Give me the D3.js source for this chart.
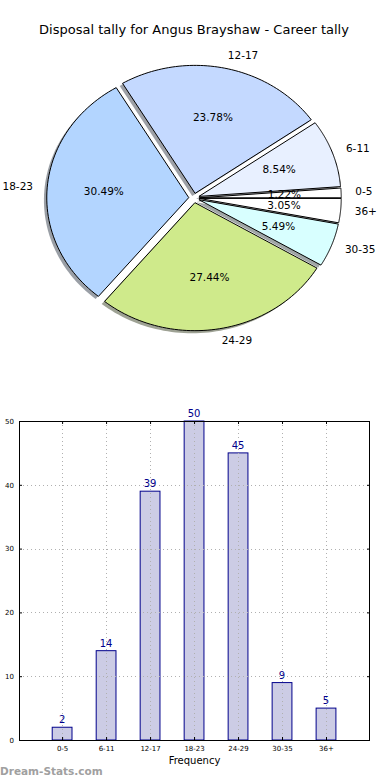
<!DOCTYPE html>
<html><head><meta charset="utf-8">
<script src="https://cdn.jsdelivr.net/npm/d3@7"></script>
<style>
html,body{margin:0;padding:0;background:#fff;}
svg{display:block;font-family:"DejaVu Sans",sans-serif;}
</style></head>
<body>
<svg id="chart" width="390" height="780"></svg>
<script>
const title = "Disposal tally for Angus Brayshaw - Career tally";
const categories = ["0-5","6-11","12-17","18-23","24-29","30-35","36+"];
const values = [2,14,39,50,45,9,5];
const sliceColors = ["#ffffff","#e8f0ff","#c4d9ff","#b3d5ff","#cfea8b","#d8ffff","#ffffff"];
const yTicks = [0,10,20,30,40,50];
const xLabel = "Frequency";
const watermark = "Dream-Stats.com";

const svg = d3.select("#chart");

svg.append("text").attr("x",194).attr("y",30).attr("text-anchor","middle")
  .attr("dominant-baseline","middle").attr("font-size",13).attr("fill","#000").text(title);

// ---- Pie (matplotlib style, counter-clockwise from 3 o'clock, elliptical) ----
const cx = 194, cy = 198, Rx = 142, Ry = 128, f = 0.037;
const total = d3.sum(values);
const angScale = d3.scaleLinear().domain([0,total]).range([0, 2*Math.PI]);
let acc = 0;
const slices = values.map((v,i)=>{ const a0 = angScale(acc); acc += v; const a1 = angScale(acc); return {i,v,a0,a1,mid:(a0+a1)/2}; });

function wedgePath(s, dx, dy){
  const ox = cx + dx + f*Rx*Math.cos(s.mid);
  const oy = cy + dy - f*Ry*Math.sin(s.mid);
  const n = 60;
  const pts = [[ox,oy]];
  for(let k=0;k<=n;k++){
    const a = s.a0 + (s.a1-s.a0)*k/n;
    pts.push([ox + Rx*Math.cos(a), oy - Ry*Math.sin(a)]);
  }
  return d3.line()(pts) + "Z";
}
const pieG = svg.append("g");
// shadows
pieG.selectAll("path.shadow").data(slices).join("path").attr("class","shadow")
  .attr("d", s=>wedgePath(s,-0.02*Rx,0.02*Ry))
  .attr("fill", (s)=>{const c=d3.rgb(sliceColors[s.i]); return d3.rgb(c.r*0.3,c.g*0.3,c.b*0.3);})
  .attr("fill-opacity",0.5).attr("stroke","none");
pieG.selectAll("path.wedge").data(slices).join("path").attr("class","wedge")
  .attr("d", s=>wedgePath(s,0,0))
  .attr("fill", s=>sliceColors[s.i]).attr("stroke","#000").attr("stroke-width",1).attr("stroke-linejoin","round");

// category labels
pieG.selectAll("text.cat").data(slices).join("text").attr("class","cat")
  .attr("x", s=>cx + (1.1+f)*Rx*Math.cos(s.mid))
  .attr("y", s=>cy - (1.1+f)*Ry*Math.sin(s.mid))
  .attr("text-anchor", s=>Math.cos(s.mid)>0?"start":"end")
  .attr("dominant-baseline","middle").attr("font-size",10.5).attr("fill","#000")
  .text(s=>categories[s.i]);
// percent labels
pieG.selectAll("text.pct").data(slices).join("text").attr("class","pct")
  .attr("x", s=>cx + (0.6+f)*Rx*Math.cos(s.mid))
  .attr("y", s=>cy - (0.6+f)*Ry*Math.sin(s.mid))
  .attr("text-anchor","middle").attr("dominant-baseline","middle")
  .attr("font-size",10.5).attr("fill","#000")
  .text(s=>(s.v/total*100).toFixed(2)+"%");

// ---- Bar chart ----
const L=19, R=370, T=421, B=740;
const x = d3.scaleLinear().domain([-0.98,7]).range([L,R]);
const y = d3.scaleLinear().domain([0,50]).range([B,T]);
const bw = x(0.45)-x(0);
const barG = svg.append("g");
barG.selectAll("rect").data(values).join("rect")
  .attr("x",(d,i)=>x(i)-bw/2).attr("y",d=>y(d))
  .attr("width",bw).attr("height",d=>y(0)-y(d))
  .attr("fill","#ccccE5").attr("stroke","#00008b").attr("stroke-width",1);
// grid
const gridG = svg.append("g").attr("stroke","#b0b0b0").attr("stroke-width",1).attr("stroke-dasharray","1,3");
gridG.selectAll("line.v").data(categories).join("line").attr("class","v")
  .attr("x1",(d,i)=>Math.round(x(i))+0.5).attr("x2",(d,i)=>Math.round(x(i))+0.5).attr("y1",T).attr("y2",B);
gridG.selectAll("line.h").data(yTicks).join("line").attr("class","h")
  .attr("x1",L).attr("x2",R).attr("y1",d=>Math.round(y(d))+0.5).attr("y2",d=>Math.round(y(d))+0.5);
// value labels
barG.selectAll("text").data(values).join("text")
  .attr("x",(d,i)=>x(i)).attr("y",d=>y(d)-4)
  .attr("text-anchor","middle").attr("font-size",10).attr("fill","#00008b").text(d=>d);
// frame
svg.append("rect").attr("x",L+0.5).attr("y",T+0.5).attr("width",R-L-1).attr("height",B-T)
  .attr("fill","none").attr("stroke","#000").attr("stroke-width",1);
// axes ticks/labels
const yAxis = d3.axisLeft(y).tickValues(yTicks).tickSize(-3).tickPadding(5).tickFormat(d3.format("d"));
const yg = svg.append("g").attr("transform",`translate(${L},0)`).call(yAxis);
yg.select(".domain").remove();
yg.selectAll("text").attr("font-size",7).attr("font-family","DejaVu Sans");
const yAxisR = d3.axisRight(y).tickValues(yTicks).tickSize(-3).tickFormat("");
svg.append("g").attr("transform",`translate(${R},0)`).call(yAxisR).select(".domain").remove();
const xAxis = d3.axisBottom(x).tickValues(d3.range(categories.length)).tickSize(-3).tickPadding(6).tickFormat(i=>categories[i]);
const xg = svg.append("g").attr("transform",`translate(0,${B})`).call(xAxis);
xg.select(".domain").remove();
xg.selectAll("text").attr("font-size",7).attr("font-family","DejaVu Sans");
const xAxisT = d3.axisTop(x).tickValues(d3.range(categories.length)).tickSize(-3).tickFormat("");
svg.append("g").attr("transform",`translate(0,${T})`).call(xAxisT).select(".domain").remove();

svg.append("text").attr("x",(L+R)/2).attr("y",764).attr("text-anchor","middle")
  .attr("font-size",10).attr("fill","#000").text(xLabel);
svg.append("text").attr("x",0).attr("y",775).attr("font-size",10.5).attr("font-weight","bold")
  .attr("fill","#a0a0a0").text(watermark);
</script>
</body></html>
